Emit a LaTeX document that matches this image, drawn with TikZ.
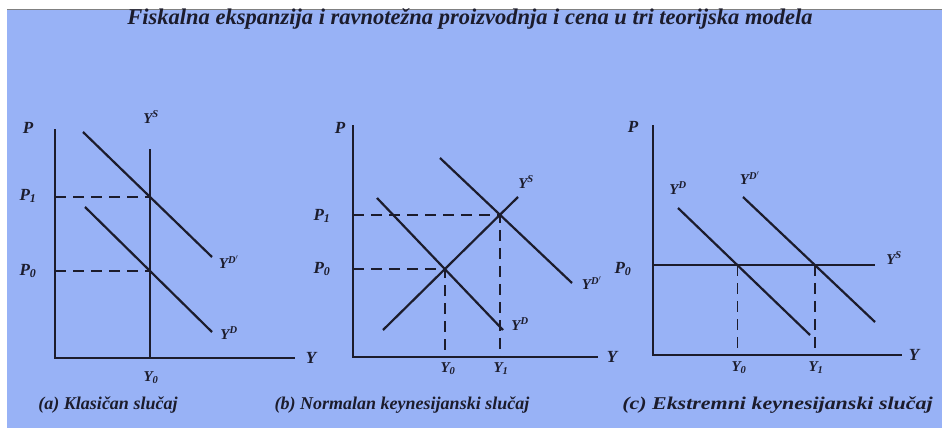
\documentclass[tikz,border=0pt]{standalone}
\usepackage{fontspec}
\setmainfont{Liberation Serif}
\usetikzlibrary{positioning}
\definecolor{bgblue}{RGB}{152,178,246}
\definecolor{ink}{RGB}{28,28,44}

\begin{document}
\begin{tikzpicture}[
    x=1pt,y=-1pt,
    axis/.style={draw=ink,line width=2pt},
    curve/.style={draw=ink,line width=2.2pt},
    guide/.style={draw=ink,line width=1.5pt,dash pattern=on 11pt off 7pt},
    lbl/.style={font=\fontsize{17}{17}\selectfont\bfseries\itshape,text=ink,inner sep=0pt},
    sublbl/.style={font=\fontsize{15}{15}\selectfont\bfseries\itshape,text=ink,inner sep=0pt},
    caption/.style={font=\fontsize{18}{18}\selectfont\bfseries\itshape,text=ink,inner sep=0pt}
  ]
    \useasboundingbox (0,0) rectangle (942,428);
    \fill[white] (0,0) rectangle (942,428);
    \fill[bgblue] (7,9) rectangle (942,428);
    \draw[gray,line width=1pt] (7,9.5) -- (942,9.5);

    \node[font=\fontsize{22.5}{22.5}\selectfont\bfseries\itshape,text=ink,inner sep=0pt] (title) at (470,19)
      {Fiskalna ekspanzija i ravnotežna proizvodnja i cena u tri teorijska modela};

    % (a) klasican slucaj
    \coordinate (a0) at (55,358);
    \coordinate (aP) at (55,129);
    \coordinate (aY) at (295,358);
    \coordinate (aS1) at (150,149);
    \coordinate (aS2) at (150,358);
    \coordinate (aD1) at (85,207);
    \coordinate (aD2) at (212,332);
    \coordinate (aE1) at (83,132);
    \coordinate (aE2) at (212,257);
    \draw[axis] (aP) -- (a0) -- (aY);
    \draw[curve] (aS1) -- (aS2);
    \draw[curve] (aD1) -- (aD2);
    \draw[curve] (aE1) -- (aE2);
    \coordinate (aq0) at (intersection of aS1--aS2 and aD1--aD2);
    \coordinate (aq1) at (intersection of aS1--aS2 and aE1--aE2);
    \draw[guide] (a0 |- aq0) -- (aq0);
    \draw[guide] (a0 |- aq1) -- (aq1);
    \node[lbl] (aPl) at (28,128) {P};
    \node[lbl] (aYl) at (311,358) {Y};
    \node[sublbl] (aSl) at (151,117) {Y\textsuperscript{S}};
    \node[sublbl] (aDl) at (229,333) {Y\textsuperscript{D}};
    \node[sublbl] (aEl) at (229,262) {Y\textsuperscript{D$'$}};
    \node[lbl] (aP1) at (28,196) {P\textsubscript{1}};
    \node[lbl] (aP0) at (28,271) {P\textsubscript{0}};
    \node[sublbl] (aY0) at (151,378) {Y\textsubscript{0}};
    \node[caption] (acap) at (108,405) {(a) Klasičan slučaj};

    % (b) normalan keynesijanski slucaj
    \coordinate (b0) at (353,357);
    \coordinate (bP) at (353,125);
    \coordinate (bY) at (598,357);
    \coordinate (bS1) at (383,330);
    \coordinate (bS2) at (518,197);
    \coordinate (bD1) at (377,198);
    \coordinate (bD2) at (503,330);
    \coordinate (bE1) at (440,158);
    \coordinate (bE2) at (572,283);
    \draw[axis] (bP) -- (b0) -- (bY);
    \draw[curve] (bS1) -- (bS2);
    \draw[curve] (bD1) -- (bD2);
    \draw[curve] (bE1) -- (bE2);
    \coordinate (bq0) at (intersection of bS1--bS2 and bD1--bD2);
    \coordinate (bq1) at (intersection of bS1--bS2 and bE1--bE2);
    \draw[guide] (b0 |- bq0) -- (bq0) -- (bq0 |- b0);
    \draw[guide] (b0 |- bq1) -- (bq1) -- (bq1 |- b0);
    \node[lbl] (bPl) at (340,128) {P};
    \node[lbl] (bYl) at (612,357) {Y};
    \node[sublbl] (bSl) at (526,182) {Y\textsuperscript{S}};
    \node[sublbl] (bDl) at (520,324) {Y\textsuperscript{D}};
    \node[sublbl] (bEl) at (592,283) {Y\textsuperscript{D$'$}};
    \node[lbl] (bP1) at (322,216) {P\textsubscript{1}};
    \node[lbl] (bP0) at (322,269) {P\textsubscript{0}};
    \node[sublbl] (bY0) at (448,369) {Y\textsubscript{0}};
    \node[sublbl] (bY1) at (501,369) {Y\textsubscript{1}};
    \node[caption] (bcap) at (402,405) {(b) Normalan keynesijanski slučaj};

    % (c) ekstremni keynesijanski slucaj
    \coordinate (c0) at (653,355);
    \coordinate (cP) at (653,125);
    \coordinate (cY) at (902,355);
    \coordinate (cS1) at (653,265);
    \coordinate (cS2) at (875,265);
    \coordinate (cD1) at (678,208);
    \coordinate (cD2) at (810,335);
    \coordinate (cE1) at (743,197);
    \coordinate (cE2) at (875,322);
    \draw[axis] (cP) -- (c0) -- (cY);
    \draw[curve] (cS1) -- (cS2);
    \draw[curve] (cD1) -- (cD2);
    \draw[curve] (cE1) -- (cE2);
    \coordinate (cq0) at (intersection of cS1--cS2 and cD1--cD2);
    \coordinate (cq1) at (intersection of cS1--cS2 and cE1--cE2);
    \draw[guide] (cq0) -- (cq0 |- c0);
    \draw[guide] (cq1) -- (cq1 |- c0);
    \node[lbl] (cPl) at (633,127) {P};
    \node[lbl] (cYl) at (914,355) {Y};
    \node[sublbl] (cSl) at (894,258) {Y\textsuperscript{S}};
    \node[sublbl] (cDl) at (678,188) {Y\textsuperscript{D}};
    \node[sublbl] (cEl) at (750,178) {Y\textsuperscript{D$'$}};
    \node[lbl] (cP0) at (623,269) {P\textsubscript{0}};
    \node[sublbl] (cY0) at (739,368) {Y\textsubscript{0}};
    \node[sublbl] (cY1) at (816,368) {Y\textsubscript{1}};
    \node[caption,anchor=west,xscale=1.22] (ccap) at (622,405) {(c) Ekstremni keynesijanski slučaj};
  \end{tikzpicture}
\end{document}
